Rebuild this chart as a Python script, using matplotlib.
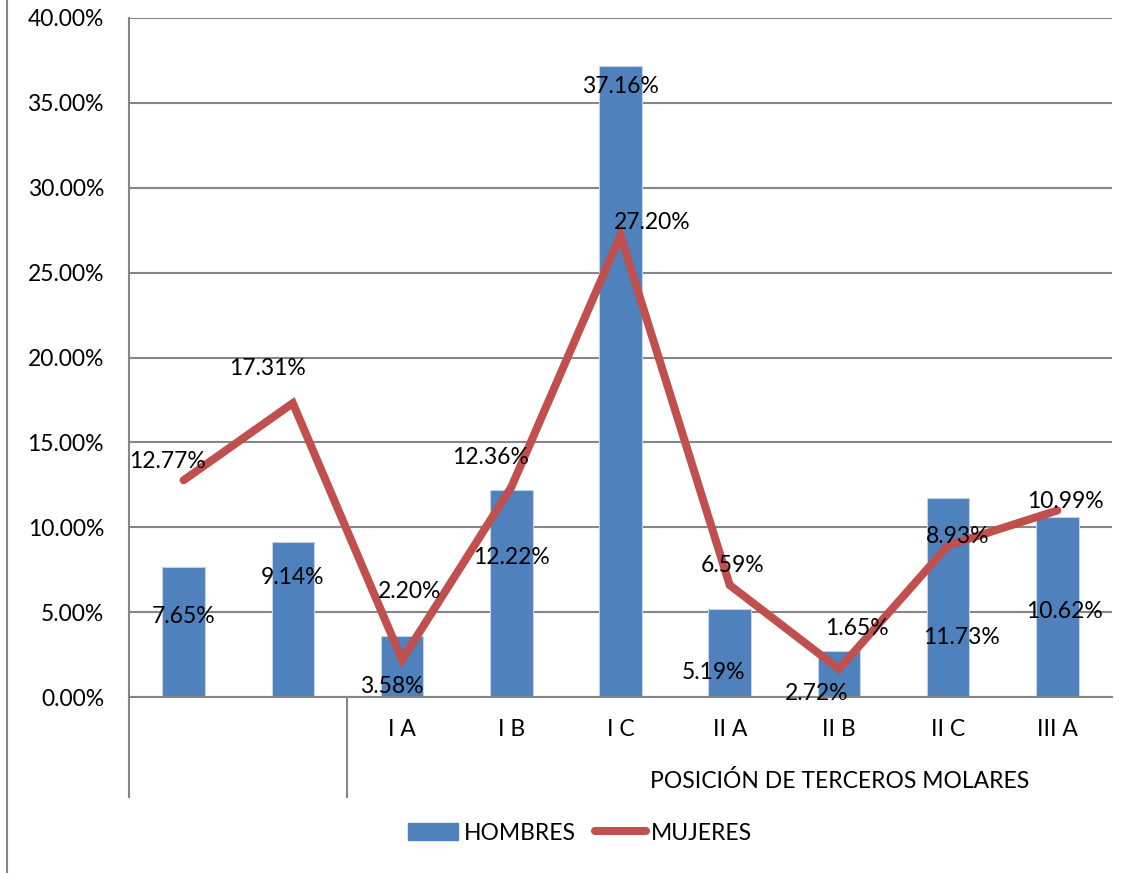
import matplotlib
matplotlib.use("Agg")
import matplotlib.pyplot as plt
from matplotlib.lines import Line2D
from matplotlib.patches import Patch
from matplotlib.transforms import blended_transform_factory
import numpy as np

plt.rcParams['font.family'] = ['Lato', 'DejaVu Sans']

# Data
categories = ['', '', 'I A', 'I B', 'I C', 'II A', 'II B', 'II C', 'III A']
hombres = [7.65, 9.14, 3.58, 12.22, 37.16, 5.19, 2.72, 11.73, 10.62]
mujeres = [12.77, 17.31, 2.20, 12.36, 27.20, 6.59, 1.65, 8.93, 10.99]
group_label = 'POSICIÓN DE TERCEROS MOLARES'

# label offsets in pixels (dx, dy)
bar_offsets = [(0, -49), (0, -36), (-10, -50), (0, -68), (0, -20),
               (-16, -64), (-22, -43), (13, -140), (7, -95)]
line_offsets = [(-16, 19), (-25, 35), (8, 68), (-21, 30), (32, 13),
                (3, 20), (18, 40), (9, 9), (8, 9)]

blue = '#4F81BD'
red = '#C0504D'
grid = '#868686'
fs = 16.5

fig = plt.figure(figsize=(11.31, 8.73), dpi=100)
ax = fig.add_axes([129/1131, 1 - 697/873, (1112 - 129)/1131, (697 - 18)/873])

x = np.arange(len(categories))
ax.bar(x, hombres, width=0.39, color=blue, edgecolor='#c5d1e4', linewidth=0.8, zorder=2)
ax.plot(x, mujeres, color=red, linewidth=5.8, solid_capstyle='round',
        solid_joinstyle='miter', zorder=3)

for xi, v, (dx, dy) in zip(x, hombres, bar_offsets):
    ax.annotate(f'{v:.2f}%', (xi, v), xytext=(dx, dy), textcoords='offset pixels',
                ha='center', va='center', fontsize=fs, zorder=5)
for xi, v, (dx, dy) in zip(x, mujeres, line_offsets):
    ax.annotate(f'{v:.2f}%', (xi, v), xytext=(dx, dy), textcoords='offset pixels',
                ha='center', va='center', fontsize=fs, zorder=5)

ax.set_xlim(-0.5, len(categories) - 0.5)
ax.set_ylim(0, 40)
ax.set_yticks(np.arange(0, 41, 5))
ax.set_yticklabels([f'{t:.2f}%' for t in np.arange(0, 41, 5)], fontsize=fs)
ax.set_xticks(x)
ax.set_xticklabels(categories, fontsize=fs)
ax.tick_params(axis='y', length=0, pad=18)
ax.tick_params(axis='x', length=0, pad=16)
ax.yaxis.grid(True, color=grid, linewidth=1.5, zorder=0)
ax.set_axisbelow(True)
for s in ['top', 'right']:
    ax.spines[s].set_visible(False)
for s in ['left', 'bottom']:
    ax.spines[s].set_color(grid)
    ax.spines[s].set_linewidth(1.5)

# multi-level category axis separators
trans = blended_transform_factory(ax.transData, ax.transAxes)
depth = -100 / 679
for xs in [-0.5, 1.5]:
    ax.add_line(Line2D([xs, xs], [0, depth], transform=trans, color=grid,
                       linewidth=1.5, clip_on=False))
fig.text(840/1131, 1 - 781/873, group_label, ha='center', va='center', fontsize=fs)

# outer border on the left
fig.add_artist(Line2D([7/1131, 7/1131], [0, 1], color=grid, linewidth=1.5))

handles = [Patch(facecolor=blue, edgecolor=blue),
           Line2D([0], [0], color=red, linewidth=5.8, solid_capstyle='round')]
fig.legend(handles, ['HOMBRES', 'MUJERES'], loc='center',
           bbox_to_anchor=(580/1131, 1 - 833/873), ncol=2, frameon=False,
           fontsize=fs, handlelength=2.2, handletextpad=0.25, columnspacing=0.85)

fig.savefig('out.png', dpi=100)
